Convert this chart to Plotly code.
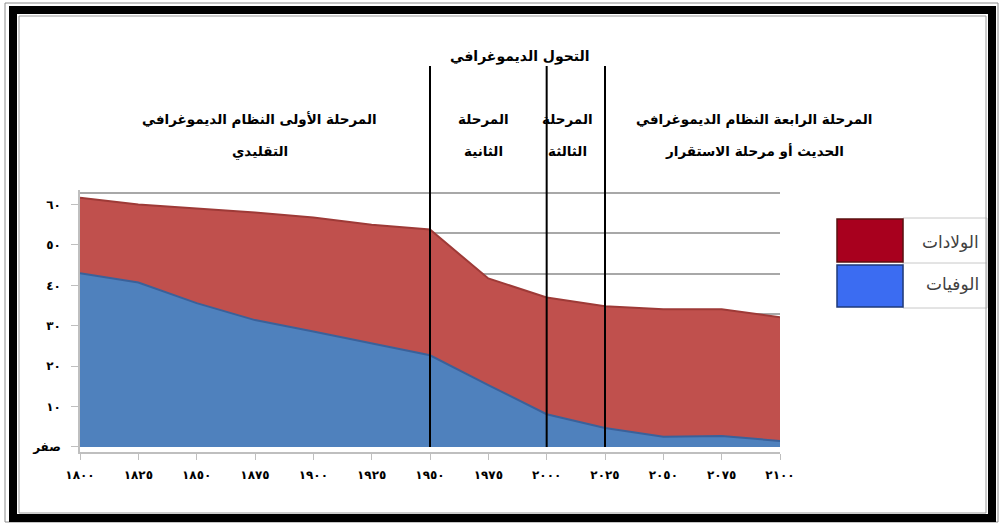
import plotly.graph_objects as go

# ---------------- data ----------------
years = [1800, 1825, 1850, 1875, 1900, 1925, 1950, 1975, 2000, 2025, 2050, 2075, 2100]
births = [61.7, 60.0, 59.0, 58.0, 56.8, 55.0, 53.8, 41.7, 37.0, 34.8, 34.1, 34.1, 32.1]
deaths = [43.0, 40.7, 35.6, 31.4, 28.6, 25.7, 22.7, 15.3, 8.1, 4.7, 2.5, 2.7, 1.5]
x_tick_text = ["١٨٠٠", "١٨٢٥", "١٨٥٠", "١٨٧٥", "١٩٠٠", "١٩٢٥", "١٩٥٠",
               "١٩٧٥", "٢٠٠٠", "٢٠٢٥", "٢٠٥٠", "٢٠٧٥", "٢١٠٠"]
y_tick_vals = [0, 10, 20, 30, 40, 50, 60]
y_tick_text = ["صفر", "١٠", "٢٠", "٣٠", "٤٠", "٥٠", "٦٠"]
phase_bounds = [1950, 2000, 2025]
title_text = "التحول الديموغرافي"
phase_line1 = ["المرحلة الأولى النظام الديموغرافي", "المرحلة", "المرحلة",
               "المرحلة الرابعة النظام الديموغرافي"]
phase_line2 = ["التقليدي", "الثانية", "الثالثة", "الحديث أو مرحلة الاستقرار"]
legend_names = ["الولادات", "الوفيات"]

# ---------------- layout geometry ----------------
W, H = 1002, 526
L, R, T, B = 80, 222, 190, 74
PW, PH = W - L - R, H - T - B
FONT = "DejaVu Sans"


def px_x(p):
    return (p - L) / PW


def px_y(p):
    return (H - B - p) / PH


phase_centers = [1877, 1973, 2009, 2089]

fig = go.Figure()
fig.add_trace(go.Scatter(
    x=years, y=births, mode="lines", fill="tozeroy",
    line=dict(color="#9E3A37", width=2), fillcolor="#C0504D",
    name=legend_names[0], showlegend=False, hoverinfo="x+y"))
fig.add_trace(go.Scatter(
    x=years, y=deaths, mode="lines", fill="tozeroy",
    line=dict(color="#3A619A", width=2), fillcolor="#4F81BD",
    name=legend_names[1], showlegend=False, hoverinfo="x+y"))
# carrier for the back-wall gridlines (3-D offset)
fig.add_trace(go.Scatter(x=[years[0]], y=[None], yaxis="y2",
                         showlegend=False, hoverinfo="skip"))

tick_font = dict(family=FONT, size=12, color="#000000")
fig.update_layout(
    width=W, height=H,
    margin=dict(l=L, r=R, t=T, b=B),
    paper_bgcolor="white", plot_bgcolor="white",
    xaxis=dict(range=[1800, 2100], tickvals=years,
               ticktext=["<b>%s</b>" % t for t in x_tick_text],
               showgrid=False, zeroline=False, showline=True,
               linecolor="#BFBFBF", linewidth=1.5, ticks="outside",
               ticklen=6, tickcolor="#BFBFBF", tickfont=tick_font,
               ticklabelstandoff=5),
    yaxis=dict(range=[-1.25, 63.6], tickvals=y_tick_vals,
               ticktext=["<b>%s</b>" % t for t in y_tick_text],
               showgrid=False, zeroline=False, showline=True,
               linecolor="#BFBFBF", linewidth=1.5, ticks="outside",
               ticklen=7, tickcolor="#BFBFBF", tickfont=tick_font,
               ticklabelstandoff=8),
    yaxis2=dict(overlaying="y", side="left", range=[-4.11, 60.74],
                tickvals=[10, 20, 30, 40, 50, 60], showticklabels=False,
                ticks="", showline=False, zeroline=False, showgrid=True,
                gridcolor="#A8A8A8", gridwidth=2),
)

shapes = []
for xb in phase_bounds:
    shapes.append(dict(type="line", xref="x", yref="paper", x0=xb, x1=xb,
                       y0=px_y(447), y1=px_y(66),
                       line=dict(color="#000000", width=2), layer="above"))

# legend table
shapes.append(dict(type="rect", xref="paper", yref="paper",
                   x0=px_x(903), x1=px_x(987), y0=px_y(308), y1=px_y(218),
                   line=dict(color="#C8C8C8", width=1), fillcolor="white"))
shapes.append(dict(type="line", xref="paper", yref="paper",
                   x0=px_x(903), x1=px_x(987), y0=px_y(263), y1=px_y(263),
                   line=dict(color="#C8C8C8", width=1)))
shapes.append(dict(type="rect", xref="paper", yref="paper",
                   x0=px_x(837), x1=px_x(903), y0=px_y(262), y1=px_y(219),
                   line=dict(color="#5A1010", width=1.5), fillcolor="#A8001E"))
shapes.append(dict(type="rect", xref="paper", yref="paper",
                   x0=px_x(837), x1=px_x(903), y0=px_y(307), y1=px_y(265),
                   line=dict(color="#1F3A7A", width=1.5), fillcolor="#3B6CF2"))

# picture frame
shapes.append(dict(type="rect", xref="paper", yref="paper",
                   x0=px_x(5), x1=px_x(998), y0=px_y(522), y1=px_y(3),
                   line=dict(color="#8C8C8C", width=1)))
shapes.append(dict(type="rect", xref="paper", yref="paper",
                   x0=px_x(13), x1=px_x(992), y0=px_y(518), y1=px_y(10),
                   line=dict(color="#000000", width=8)))
shapes.append(dict(type="rect", xref="paper", yref="paper",
                   x0=px_x(19), x1=px_x(986), y0=px_y(513), y1=px_y(16),
                   line=dict(color="#9A9A9A", width=1)))
fig.update_layout(shapes=shapes)

ann = []
ann.append(dict(text="<b>%s</b>" % title_text, xref="x", yref="paper",
                x=1988.5, y=px_y(46), showarrow=False,
                font=dict(family=FONT, size=14, color="#000000")))
for cx, t1, t2 in zip(phase_centers, phase_line1, phase_line2):
    ann.append(dict(text="<b>%s</b>" % t1, xref="x", yref="paper",
                    x=cx, y=px_y(109), showarrow=False,
                    font=dict(family=FONT, size=13.5, color="#000000")))
    ann.append(dict(text="<b>%s</b>" % t2, xref="x", yref="paper",
                    x=cx, y=px_y(141), showarrow=False,
                    font=dict(family=FONT, size=13.5, color="#000000")))
for name, py in zip(legend_names, [230, 284]):
    ann.append(dict(text=name, xref="paper", yref="paper",
                    x=px_x(981), y=px_y(py), xanchor="right", showarrow=False,
                    font=dict(family=FONT, size=17, color="#404040")))
fig.update_layout(annotations=ann)

fig.write_html("out.html", config={"displayModeBar": False},
               post_script="document.body.style.margin='0';")
